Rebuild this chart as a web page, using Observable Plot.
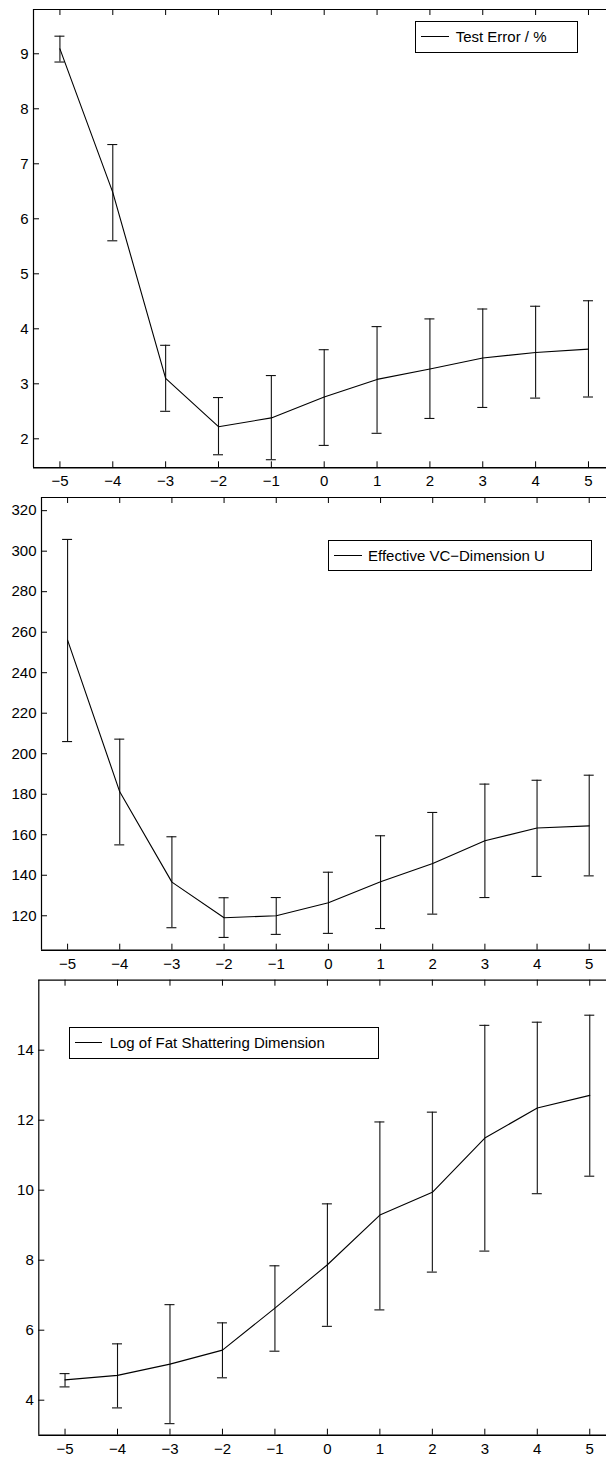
<!DOCTYPE html>
<html>
<head>
<meta charset="utf-8">
<script src="https://cdn.jsdelivr.net/npm/d3@7"></script>
<script src="https://cdn.jsdelivr.net/npm/@observablehq/plot@0.6"></script>
<style>
  html, body { margin: 0; padding: 0; background: #fff; overflow: hidden; }
  #root { position: relative; width: 606px; height: 1457px; overflow: hidden; background: #fff; }
  .panel { position: absolute; left: 0; width: 606px; }
  .panel svg { max-width: none; display: block; }
  .legend { position: absolute; box-sizing: border-box; border: 1.3px solid #000; background: #fff;
            display: flex; align-items: center; font-family: "Liberation Sans", Arial, sans-serif;
            font-size: 15px; color: #000; white-space: nowrap; }
  .legend .sample { display: inline-block; height: 0; border-top: 1px solid #000; }
</style>
</head>
<body>
<div id="root"></div>
<script>
// ---- data ----
const xs = [-5, -4, -3, -2, -1, 0, 1, 2, 3, 4, 5];

const errMean = [9.09, 6.48, 3.10, 2.22, 2.38, 2.76, 3.08, 3.27, 3.47, 3.57, 3.63];
const errLo   = [8.85, 5.60, 2.50, 1.71, 1.62, 1.88, 2.10, 2.37, 2.57, 2.74, 2.76];
const errHi   = [9.32, 7.35, 3.70, 2.75, 3.15, 3.62, 4.04, 4.18, 4.36, 4.41, 4.51];

const vcMean = [256.1, 181.2, 136.6, 119.0, 120.0, 126.4, 136.8, 145.8, 157.0, 163.3, 164.4];
const vcLo   = [206.0, 155.0, 114.1, 109.3, 110.8, 111.3, 113.7, 120.8, 129.0, 139.4, 139.7];
const vcHi   = [305.8, 207.2, 159.0, 128.9, 129.0, 141.5, 159.5, 171.0, 185.0, 186.9, 189.4];

const fatMean = [4.58, 4.71, 5.03, 5.43, 6.63, 7.87, 9.29, 9.94, 11.49, 12.35, 12.71];
const fatLo   = [4.38, 3.78, 3.33, 4.64, 5.40, 6.11, 6.58, 7.66, 8.26, 9.90, 10.40];
const fatHi   = [4.76, 5.61, 6.73, 6.21, 7.84, 9.61, 11.95, 12.23, 14.71, 14.80, 15.00];

const xTicks = [-5, -4, -3, -2, -1, 0, 1, 2, 3, 4, 5];
const errTicks = [2, 3, 4, 5, 6, 7, 8, 9];
const vcTicks = [120, 140, 160, 180, 200, 220, 240, 260, 280, 300, 320];
const fatTicks = [4, 6, 8, 10, 12, 14];

const legendLabels = ["Test Error / %", "Effective VC\u2212Dimension U", "Log of Fat Shattering Dimension"];

// ---- drawing ----
const root = document.getElementById("root");
const W = 606;
const FONT = "'Liberation Sans', Arial, sans-serif";

function panel(cfg) {
  const data = xs.map((x, i) => ({x, m: cfg.mean[i], lo: cfg.lo[i], hi: cfg.hi[i]}));
  // full axes box spans x in [-5.5, 5.5] over (W - ml + over) px; the right part is cropped off
  const pxPerUnit = (W - cfg.ml + cfg.over) / 11;
  const xRight = -5.5 + (W - cfg.ml) / pxPerUnit;
  const innerH = cfg.height - cfg.mt - cfg.mb;
  const innerW = W - cfg.ml;
  const tick = 6;
  const svg = Plot.plot({
    width: W,
    height: cfg.height,
    marginTop: cfg.mt,
    marginBottom: cfg.mb,
    marginLeft: cfg.ml,
    marginRight: 0,
    style: {fontSize: "15px", fontFamily: FONT, color: "#000", background: "#fff"},
    x: {domain: [-5.5, xRight]},
    y: {domain: cfg.yDomain},
    marks: [
      // axes box (left, bottom, top)
      Plot.ruleX([-5.5], {stroke: "#000", strokeWidth: 1.2}),
      Plot.ruleY([cfg.yDomain[0]], {stroke: "#000", strokeWidth: 1.4}),
      Plot.ruleY([cfg.yDomain[1]], {stroke: "#000", strokeWidth: 1.2}),
      // inward ticks
      Plot.tickX(xTicks, {x: d => d, insetTop: innerH - tick, stroke: "#000", strokeWidth: 1}),
      Plot.tickX(xTicks, {x: d => d, insetBottom: innerH - tick, stroke: "#000", strokeWidth: 1}),
      Plot.tickY(cfg.yTicks, {y: d => d, insetRight: innerW - tick, stroke: "#000", strokeWidth: 1}),
      // tick labels
      Plot.axisX({ticks: xTicks, tickSize: 0, tickPadding: 8, label: null, fontSize: 15, fill: "#000"}),
      Plot.axisY({ticks: cfg.yTicks, tickSize: 0, tickPadding: 5, label: null, fontSize: 15, fill: "#000"}),
      // error bars
      Plot.ruleX(data, {x: "x", y1: "lo", y2: "hi", stroke: "#111", strokeWidth: 1.1}),
      Plot.ruleY(data, {y: "lo", x1: "x", x2: "x", insetLeft: -5, insetRight: -5, stroke: "#111", strokeWidth: 1.1}),
      Plot.ruleY(data, {y: "hi", x1: "x", x2: "x", insetLeft: -5, insetRight: -5, stroke: "#111", strokeWidth: 1.1}),
      // mean line
      Plot.line(data, {x: "x", y: "m", stroke: "#000", strokeWidth: 1.1})
    ]
  });
  const wrap = document.createElement("div");
  wrap.className = "panel";
  wrap.style.top = cfg.top + "px";
  wrap.style.height = cfg.height + "px";
  wrap.appendChild(svg);
  root.appendChild(wrap);

  const lg = document.createElement("div");
  lg.className = "legend";
  lg.style.left = cfg.lg.left + "px";
  lg.style.top = cfg.lg.top + "px";
  lg.style.width = cfg.lg.w + "px";
  lg.style.height = cfg.lg.h + "px";
  const s = document.createElement("span");
  s.className = "sample";
  s.style.marginLeft = cfg.lg.lineLeft + "px";
  s.style.width = cfg.lg.lineW + "px";
  const t = document.createElement("span");
  t.textContent = cfg.label;
  t.style.marginLeft = cfg.lg.gap + "px";
  lg.appendChild(s);
  lg.appendChild(t);
  root.appendChild(lg);
}

panel({top: 0, height: 490, mt: 9, mb: 22.7, ml: 33, over: 8.4,
  yDomain: [1.473, 9.805], yTicks: errTicks, mean: errMean, lo: errLo, hi: errHi,
  label: legendLabels[0], lg: {left: 415, top: 20.7, w: 162.7, h: 32.3, lineLeft: 5.4, lineW: 27.3, gap: 7}});

panel({top: 490, height: 485, mt: 7, mb: 25.3, ml: 41, over: 8.8,
  yDomain: [103.0, 326.5], yTicks: vcTicks, mean: vcMean, lo: vcLo, hi: vcHi,
  label: legendLabels[1], lg: {left: 327.7, top: 539.7, w: 264, h: 31, lineLeft: 5, lineW: 28, gap: 6.3}});

panel({top: 975, height: 482, mt: 4.7, mb: 22.3, ml: 38.3, over: 9.5,
  yDomain: [3, 16], yTicks: fatTicks, mean: fatMean, lo: fatLo, hi: fatHi,
  label: legendLabels[2], lg: {left: 68.7, top: 1027, w: 310.3, h: 31.7, lineLeft: 5.3, lineW: 26.7, gap: 8}});
</script>
</body>
</html>
